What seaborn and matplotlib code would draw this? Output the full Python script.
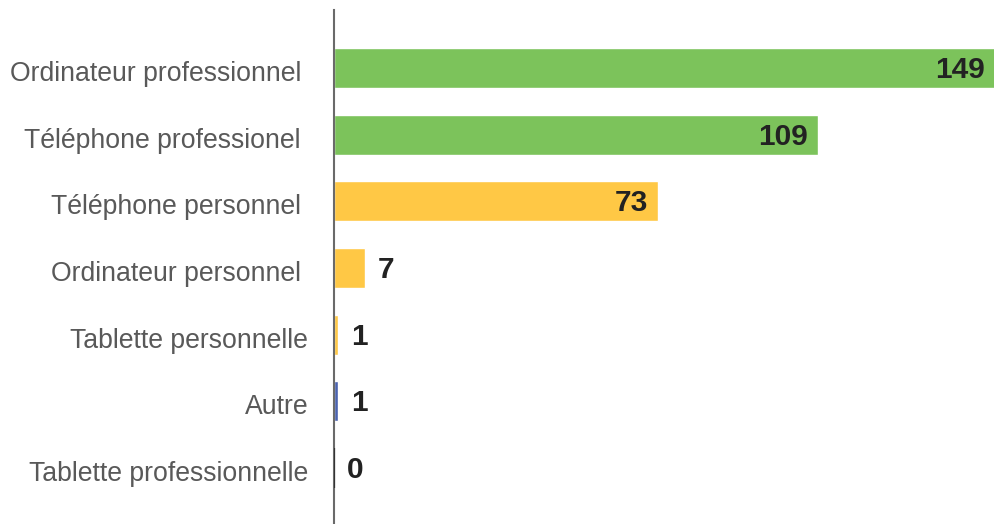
import matplotlib
matplotlib.use("Agg")
import matplotlib.pyplot as plt
import matplotlib.transforms as mtransforms
import seaborn as sns
import pandas as pd

categories = ["Ordinateur professionnel", "Téléphone professionel", "Téléphone personnel",
              "Ordinateur personnel", "Tablette personnelle", "Autre", "Tablette professionnelle"]
values = [149, 109, 73, 7, 1, 1, 0]
colors = ["#7CC35B", "#7CC35B", "#FFC845", "#FFC845", "#FFC845", "#4A62AF", "#333333"]
tick_labels = ["Ordinateur professionnel ", "Téléphone professionel ", "Téléphone personnel ",
               "Ordinateur personnel ", "Tablette personnelle", "Autre", "Tablette professionnelle"]

sns.set_theme(style="white")
plt.rcParams["font.family"] = ["Liberation Sans", "DejaVu Sans"]

df = pd.DataFrame({"cat": categories, "val": values})
fig = plt.figure(figsize=(9.95, 5.24), dpi=100)
ax = fig.add_axes([334 / 995, 0, 1 - 334 / 995, 1 - 10 / 524])

sns.barplot(data=df, y="cat", x="val", hue="cat", palette=dict(zip(categories, colors)),
            orient="h", width=0.6, legend=False, ax=ax, saturation=1)

ax.set_xlim(0, 149)
ax.set_ylim(6.84, -0.87)
for s in ["top", "right", "bottom"]:
    ax.spines[s].set_visible(False)
ax.spines["left"].set_color("#6a6a6a")
ax.spines["left"].set_linewidth(1.5)
ax.set_xticks([])
ax.set_xlabel("")
ax.set_ylabel("")
ax.set_yticks(range(len(categories)))
ax.set_yticklabels(tick_labels, fontsize=19.2, color="#595959")
ax.tick_params(axis="y", length=0, pad=18.5)
shift = mtransforms.ScaledTranslation(0, -3 / 100, fig.dpi_scale_trans)
for lab in ax.get_yticklabels():
    lab.set_transform(lab.get_transform() + shift)

for i, p in enumerate(ax.patches[:len(values)]):
    v = values[i]
    y = p.get_y() + p.get_height() / 2
    if v == 0:
        p.set_edgecolor("#333333")
        p.set_linewidth(1.6)
        p.set_zorder(3)
    if v > 20:
        ax.annotate(str(v), (v, y), xytext=(-7, -1.5), textcoords="offset points",
                    ha="right", va="center", fontsize=21.5, fontweight="bold", color="#222222")
    else:
        ax.annotate(str(v), (v, y), xytext=(9, -1.5), textcoords="offset points",
                    ha="left", va="center", fontsize=21.5, fontweight="bold", color="#222222")

fig.savefig("out.png", dpi=100)
